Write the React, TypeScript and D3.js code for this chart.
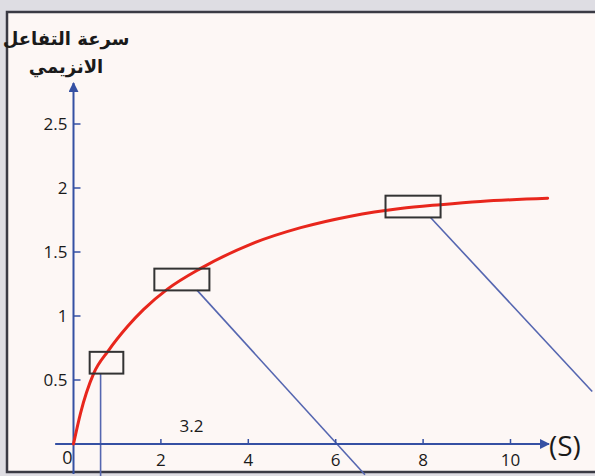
import { useRef, useEffect } from 'react';
import * as d3 from 'd3';

// reaction rate curve
const curveS = [0, 0.16, 0.46, 0.8, 1.24, 1.6, 2.15, 2.9, 4.05, 5.2, 6.34, 7.48, 8.4, 9.31, 10.85];
const curveV = [0, 0.24, 0.55, 0.73, 0.92, 1.05, 1.21, 1.37, 1.56, 1.69, 1.78, 1.84, 1.87, 1.895, 1.92];

const xTicks = [2, 4, 6, 8, 10];
const yTicks = [0.5, 1, 1.5, 2, 2.5];

// zoom boxes on the curve: [x0, x1, y0, y1]
const boxes = [
  [0.37, 1.14, 0.55, 0.72],
  [1.85, 3.11, 1.2, 1.37],
  [7.14, 8.4, 1.77, 1.94],
];
// lines leaving the boxes: [x0, y0, x1, y1]
const leaders = [
  [0.62, 0.55, 0.62, -0.3],
  [2.83, 1.2, 6.67, -0.24],
  [8.17, 1.77, 11.87, 0.41],
];

const yTitle = ['سرعة التفاعل', 'الانزيمي'];
const xTitle = '(S)';
const note = { x: 2.7, y: 0.13, text: '3.2' };

const App = () => {
  const svgRef = useRef(null);

  useEffect(() => {
    const width = 595;
    const height = 476;
    const svg = d3.select(svgRef.current);
    svg.selectAll('*').remove();
    svg.attr('width', width).attr('height', height)
      .style('font-family', '"Open Sans", "DejaVu Sans", sans-serif');

    const x = d3.scaleLinear([0, 10], [73.5, 510.5]);
    const y = d3.scaleLinear([0, 2.5], [444, 124]);

    const axisBlue = '#3550a3';
    const lineBlue = '#5566b0';

    // page + frame
    svg.append('rect').attr('width', width).attr('height', height).attr('fill', '#dedde3');
    svg.append('rect')
      .attr('x', 7).attr('y', 12).attr('width', width).attr('height', 460)
      .attr('fill', '#fdf7f5').attr('stroke', '#3a3a44').attr('stroke-width', 2.5);

    const defs = svg.append('defs');
    defs.append('marker')
      .attr('id', 'arr').attr('viewBox', '0 0 10 10')
      .attr('refX', 9).attr('refY', 5)
      .attr('markerWidth', 5).attr('markerHeight', 5)
      .attr('orient', 'auto')
      .append('path').attr('d', 'M0,0L10,5L0,10z').attr('fill', axisBlue);

    // leader lines
    svg.append('g').selectAll('line')
      .data(leaders)
      .join('line')
      .attr('x1', d => x(d[0])).attr('y1', d => y(d[1]))
      .attr('x2', d => x(d[2])).attr('y2', d => y(d[3]))
      .attr('stroke', lineBlue).attr('stroke-width', 1.6);

    // axes
    svg.append('line')
      .attr('x1', x(-0.42)).attr('x2', x(10.88))
      .attr('y1', y(0)).attr('y2', y(0))
      .attr('stroke', axisBlue).attr('stroke-width', 2)
      .attr('marker-end', 'url(#arr)');
    svg.append('line')
      .attr('x1', x(0)).attr('x2', x(0))
      .attr('y1', 474).attr('y2', y(2.82))
      .attr('stroke', axisBlue).attr('stroke-width', 2)
      .attr('marker-end', 'url(#arr)');

    const tg = svg.append('g').attr('fill', '#1a1a1a').attr('font-size', 17);
    tg.selectAll('line.xt')
      .data(xTicks)
      .join('line')
      .attr('class', 'xt')
      .attr('x1', d => x(d)).attr('x2', d => x(d))
      .attr('y1', y(0)).attr('y2', y(0) - 5)
      .attr('stroke', axisBlue).attr('stroke-width', 1.5);
    tg.selectAll('text.xl')
      .data(xTicks)
      .join('text')
      .attr('class', 'xl')
      .attr('x', d => x(d)).attr('y', y(0) + 22)
      .attr('text-anchor', 'middle')
      .text(d => d);
    tg.append('text')
      .attr('x', x(0) - 6).attr('y', y(0) + 20)
      .attr('text-anchor', 'middle').attr('font-size', 18).text('0');

    tg.selectAll('line.yt')
      .data(yTicks)
      .join('line')
      .attr('class', 'yt')
      .attr('x1', x(0)).attr('x2', x(0) + 7)
      .attr('y1', d => y(d)).attr('y2', d => y(d))
      .attr('stroke', axisBlue).attr('stroke-width', 1.5);
    tg.selectAll('text.yl')
      .data(yTicks)
      .join('text')
      .attr('class', 'yl')
      .attr('x', x(0) - 6).attr('y', d => y(d) + 6)
      .attr('text-anchor', 'end')
      .text(d => d);

    tg.append('text')
      .attr('x', x(note.x)).attr('y', y(note.y) + 5)
      .attr('text-anchor', 'middle').text(note.text);

    tg.append('text')
      .attr('x', 549).attr('y', 456)
      .attr('font-size', 28)
      .text(xTitle);

    svg.append('g')
      .attr('font-family', '"DejaVu Sans", sans-serif')
      .attr('font-weight', 'bold').attr('font-size', 18).attr('fill', '#1a1a1a')
      .selectAll('text')
      .data(yTitle)
      .join('text')
      .attr('x', 66).attr('y', (d, i) => 45 + i * 28)
      .attr('text-anchor', 'middle')
      .attr('direction', 'rtl')
      .text(d => d);

    // curve
    const pts = curveS.map((s, i) => [s, curveV[i]]);
    const line = d3.line()
      .x(d => x(d[0])).y(d => y(d[1]))
      .curve(d3.curveMonotoneX);
    svg.append('path')
      .attr('d', line(pts))
      .attr('fill', 'none')
      .attr('stroke', '#e8261c').attr('stroke-width', 3)
      .attr('stroke-linecap', 'round');

    // boxes
    svg.append('g').selectAll('rect')
      .data(boxes)
      .join('rect')
      .attr('x', d => x(d[0])).attr('y', d => y(d[3]))
      .attr('width', d => x(d[1]) - x(d[0]))
      .attr('height', d => y(d[2]) - y(d[3]))
      .attr('fill', 'none')
      .attr('stroke', '#333').attr('stroke-width', 2);
  }, []);

  return (
    <div style={{ position: 'absolute', left: 0, top: 0 }}>
      <svg ref={svgRef}></svg>
    </div>
  );
};

export default App;
